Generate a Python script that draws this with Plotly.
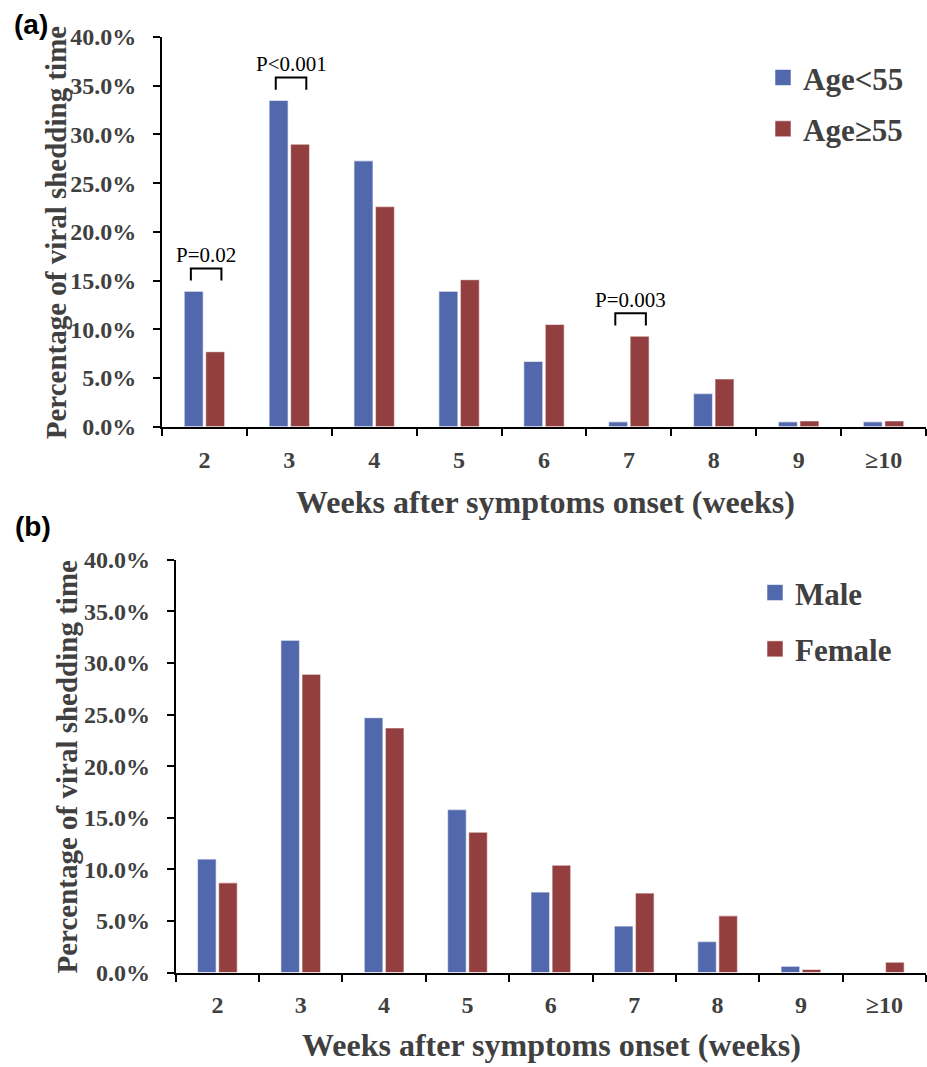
import plotly.graph_objects as go

# ---------------- data ----------------
weeks = ["2", "3", "4", "5", "6", "7", "8", "9", "≥10"]

age_lt55 = [13.9, 33.5, 27.3, 13.9, 6.7, 0.5, 3.4, 0.5, 0.5]
age_ge55 = [7.7, 29.0, 22.6, 15.1, 10.5, 9.3, 4.9, 0.6, 0.6]

male = [11.0, 32.2, 24.7, 15.8, 7.8, 4.5, 3.0, 0.6, 0.0]
female = [8.7, 28.9, 23.7, 13.6, 10.4, 7.7, 5.5, 0.3, 1.0]

p_weeks = ["2", "3", "7"]
p_labels = ["P=0.02", "P<0.001", "P=0.003"]

y_ticks = [0, 5, 10, 15, 20, 25, 30, 35, 40]
y_ticktext = [f"{v:.1f}%" for v in y_ticks]

# ---------------- style ----------------
BLUE = "#5268AD"
RED = "#943F3F"
GREY = "#404040"
SERIF = "Liberation Serif, Times New Roman, serif"
SANS = "Liberation Sans, Arial, sans-serif"
W, H = 927, 1067
# empirical correction of the vertical placement seen in the screenshot
VS, VOFF = 0.977, 13.4

fig = go.Figure()

def bar(name, vals, color, xa, ya):
    return go.Bar(
        x=weeks, y=vals, name=name, xaxis=xa, yaxis=ya,
        marker=dict(color=color, line=dict(color="rgba(255,255,255,0.55)", width=1.2)),
        showlegend=False,
    )

fig.add_trace(bar("Age<55", age_lt55, BLUE, "x", "y"))
fig.add_trace(bar("Age≥55", age_ge55, RED, "x", "y"))
fig.add_trace(bar("Male", male, BLUE, "x2", "y2"))
fig.add_trace(bar("Female", female, RED, "x2", "y2"))

# legend-only entries (square swatches)
def leg(name, color, xa, ya, legend, group):
    return go.Scatter(
        x=[None], y=[None], mode="markers", name=name, xaxis=xa, yaxis=ya,
        legend=legend, legendgroup=group,
        marker=dict(symbol="square", size=16, color=color,
                    line=dict(color="rgba(255,255,255,0.55)", width=1)),
    )

fig.add_trace(leg("Age<55", BLUE, "x", "y", "legend", "a1"))
fig.add_trace(leg("Age≥55", RED, "x", "y", "legend", "a2"))
fig.add_trace(leg("Male", BLUE, "x2", "y2", "legend2", "b1"))
fig.add_trace(leg("Female", RED, "x2", "y2", "legend2", "b2"))

# ---------------- P-value brackets ----------------
for wk, lab in zip(p_weeks, p_labels):
    i = weeks.index(wk)
    top_bar = max(age_lt55[i], age_ge55[i])
    y_leg = top_bar + 1.1
    y_top = y_leg + 1.25
    x0, x1 = i - 0.16, i + 0.2
    fig.add_shape(type="path", xref="x", yref="y",
                  path=f"M {x0} {y_leg} L {x0} {y_top} L {x1} {y_top} L {x1} {y_leg}",
                  line=dict(color="black", width=2))
    fig.add_annotation(x=i + 0.02, y=y_top + 1.4, xref="x", yref="y", text=lab,
                       showarrow=False, xanchor="center", yanchor="middle",
                       font=dict(family=SERIF, size=21, color="black"))

# ---------------- axes ----------------
def px_to_fx(px):
    return px / W

def px_to_fy(py):
    return 1 - ((py - VOFF) / VS) / H

tickfont = dict(family=SERIF, size=24, color=GREY, weight="bold")

xcommon = dict(
    type="category", showline=True, linecolor="black", linewidth=2,
    ticks="outside", tickson="boundaries", ticklen=7, tickwidth=2, tickcolor="black",
    tickfont=tickfont, showgrid=False,
    ticklabelstandoff=10, range=[-0.5, 8.5],
)
ycommon = dict(
    range=[0, 40], tickmode="array", tickvals=y_ticks, ticktext=y_ticktext,
    showline=True, linecolor="black", linewidth=2,
    ticks="outside", ticklen=7, tickwidth=2, tickcolor="black",
    tickfont=tickfont,
    showgrid=False, zeroline=False, ticklabelstandoff=12,
)

legfont = dict(family=SERIF, size=31, color=GREY, weight="bold")

fig.update_layout(
    xaxis=dict(domain=[px_to_fx(162), px_to_fx(926)], anchor="y", **xcommon),
    yaxis=dict(domain=[px_to_fy(427.7), px_to_fy(37.5)], anchor="x", **ycommon),
    xaxis2=dict(domain=[px_to_fx(175.7), px_to_fx(926)], anchor="y2", **xcommon),
    yaxis2=dict(domain=[px_to_fy(974.3), px_to_fy(561)], anchor="x2", **ycommon),
    barmode="group", bargap=0.494, bargroupgap=0.116,
    width=W, height=H, margin=dict(l=0, r=0, t=0, b=0),
    plot_bgcolor="white", paper_bgcolor="white",
    legend=dict(x=px_to_fx(763), y=px_to_fy(51.3), xanchor="left", yanchor="top",
                font=legfont, tracegroupgap=8, bgcolor="rgba(0,0,0,0)"),
    legend2=dict(x=px_to_fx(755), y=px_to_fy(567.1), xanchor="left", yanchor="top",
                 font=legfont, tracegroupgap=13, bgcolor="rgba(0,0,0,0)"),
)

# axis titles and panel labels
ytitle = "Percentage of viral shedding time"
xtitle = "Weeks after symptoms onset (weeks)"
titlefont = dict(family=SERIF, size=29, color=GREY, weight="bold")

def paper_text(x, y, text, font, angle=0):
    fig.add_annotation(x=px_to_fx(x), y=px_to_fy(y), xref="paper", yref="paper",
                       text=text, textangle=angle, showarrow=False,
                       xanchor="center", yanchor="middle", font=font)

paper_text(56, 233, ytitle, titlefont, -90)
paper_text(67, 768, ytitle, titlefont, -90)
paper_text(545, 503, xtitle, dict(titlefont, size=32))
paper_text(551, 1047, xtitle, dict(titlefont, size=32))
panelfont = dict(family=SANS, size=28, color="black", weight="bold")
paper_text(31, 25, "(a)", panelfont)
paper_text(33, 528, "(b)", panelfont)

fig.write_html(
    "out.html",
    config={"displayModeBar": False},
    post_script=(
        "document.body.style.margin='0';document.body.style.padding='0';"
        "document.documentElement.style.overflow='hidden';"
    ),
)
